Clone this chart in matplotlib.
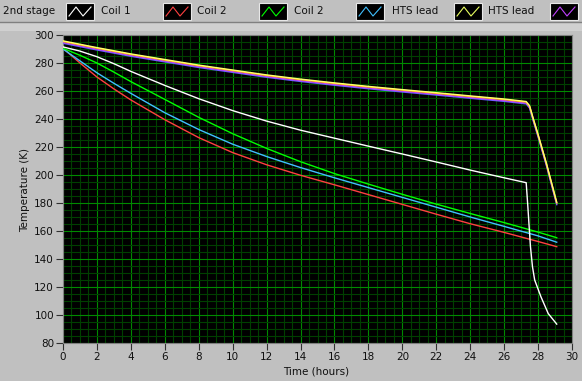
import matplotlib
matplotlib.use("Agg")
import matplotlib.pyplot as plt
from matplotlib.patches import Rectangle
from matplotlib.ticker import MultipleLocator

# time (hours) and temperatures (K)
t_cool = [0, 1, 2, 3, 4, 6, 8, 10, 12, 14, 16, 18, 20, 22, 24, 26, 28, 29.1]
coil1_red = [290.5, 280, 270, 261.5, 253.6, 239.5, 226.7, 216, 207.3, 199.8, 193, 186,
             179, 172, 165.2, 159, 152.5, 148.8]
coil2_green = [290.5, 285.5, 280, 273.5, 266.7, 254, 241.2, 229.5, 219, 209.5, 201,
               193.5, 186.2, 179.2, 172.5, 166, 159.2, 155.2]
coil2_blue = [290, 281.5, 273, 265.5, 258.3, 244.5, 232.5, 222, 213.2, 205.3, 198, 191,
              184, 177, 170, 163.3, 156.5, 152]

t_stage = [0, 1, 2, 3, 4, 6, 8, 10, 12, 14, 16, 18, 20, 22, 24, 26, 27.3,
           27.4, 27.55, 27.67, 27.8, 28.17, 28.6, 29.1]
stage2_white = [291.5, 288.5, 284.5, 279.5, 274, 264, 254.5, 246, 238.5, 232, 226.3, 220.6,
                215, 209.3, 203.5, 198, 194.5, 177, 149, 134.5, 125, 113, 101, 93.5]

t_lead = [0, 2, 4, 6, 8, 10, 12, 14, 16, 18, 20, 22, 24, 26, 27.3, 27.5, 27.7, 28, 28.5, 29.1]
lead_yellow = [295.8, 291, 286.5, 282.5, 278.5, 275, 271.5, 268.5, 265.8, 263.3, 261,
               258.8, 256.5, 254.3, 252.5, 249.5, 241, 229, 208, 180.5]
lead_orange = [295.4, 290.6, 286.1, 282.1, 278.1, 274.6, 271.1, 268.1, 265.4, 262.9, 260.6,
               258.4, 256.1, 253.9, 252.1, 249.1, 240.6, 228.6, 207.6, 180.1]
lead_violet = [294.7, 289.9, 285.4, 281.4, 277.4, 273.9, 270.4, 267.4, 264.7, 262.2, 259.9,
               257.7, 255.4, 253.2, 251.4, 248.4, 239.9, 227.9, 206.9, 179.4]
lead_indigo = [294.1, 289.3, 284.8, 280.8, 276.8, 273.3, 269.8, 266.8, 264.1, 261.6, 259.3,
               257.1, 254.8, 252.6, 250.8, 247.8, 239.3, 227.3, 206.3, 178.8]

legend_labels = ['2nd stage', 'Coil 1', 'Coil 2', 'Coil 2', 'HTS lead', 'HTS lead']
legend_colors = ['#ffffff', '#ff4040', '#00ff00', '#40c0ff', '#e8ff60', '#c040ff']

W, H = 582, 381
bg = '#c0c0c0'
plt.rcParams['font.family'] = ['DejaVu Sans']

fig = plt.figure(figsize=(W / 100, H / 100), dpi=100, facecolor=bg)

ax = fig.add_axes([63 / W, 38 / H, 509 / W, 308 / H])
ax.set_facecolor('black')

lw = 1.0
ax.plot(t_lead, lead_indigo, color='#6060ff', lw=lw, zorder=3)
ax.plot(t_lead, lead_violet, color='#c040ff', lw=lw, zorder=3)
ax.plot(t_lead, lead_orange, color='#ffb000', lw=lw, zorder=3)
ax.plot(t_lead, lead_yellow, color='#ffff70', lw=lw, zorder=3)
ax.plot(t_cool, coil1_red, color='#ff4040', lw=lw, zorder=3)
ax.plot(t_cool, coil2_blue, color='#40c0ff', lw=lw, zorder=3)
ax.plot(t_cool, coil2_green, color='#00ff00', lw=lw, zorder=3)
ax.plot(t_stage, stage2_white, color='#ffffff', lw=lw, zorder=4)

ax.set_xlim(0, 30)
ax.set_ylim(80, 300)
ax.xaxis.set_major_locator(MultipleLocator(2))
ax.xaxis.set_minor_locator(MultipleLocator(0.5))
ax.yaxis.set_major_locator(MultipleLocator(20))
ax.yaxis.set_minor_locator(MultipleLocator(5))
ax.grid(which='minor', color='#004000', lw=0.8, zorder=1)
ax.grid(which='major', color='#008a00', lw=0.8, zorder=2)
ax.set_axisbelow(True)
ax.tick_params(which='major', direction='out', length=5, width=0.8, color='#303030',
               labelsize=7.5, labelcolor='#101010', pad=1.5)
ax.tick_params(which='minor', length=0)
for s in ax.spines.values():
    s.set_color('#808080')
    s.set_linewidth(0.8)

fig.text(25 / W, 1 - 190 / H, 'Temperature (K)', rotation=90, ha='center', va='center',
         fontsize=7.5, color='#101010')
fig.text(316 / W, 1 - 371 / H, 'Time (hours)', ha='center', va='center',
         fontsize=7.5, color='#101010')

# legend bar on top, drawn in pixel coordinates
ov = fig.add_axes([0, 0, 1, 1], zorder=-1)
ov.set_xlim(0, W)
ov.set_ylim(H, 0)
ov.axis('off')
ov.plot([0, W], [22, 22], color='#808080', lw=1)
ov.add_patch(Rectangle((0, 22.5), W, 8, facecolor='#d0d0d0', edgecolor='none'))

text_x = [3, 101, 197, 294, 392, 488]
box_x = [66, 163, 259, 356, 454, 550]
for lab, col, tx, bx in zip(legend_labels, legend_colors, text_x, box_x):
    ov.text(tx, 11.5, lab, ha='left', va='center', fontsize=7.5, color='#101010')
    ov.add_patch(Rectangle((bx, 3), 28, 17, facecolor='black', edgecolor='#e8e8e8', lw=0.8))
    ov.plot([bx + 3, bx + 10, bx + 17, bx + 25], [16, 7, 16, 7], color=col, lw=0.8)

fig.savefig('out.png', dpi=100, facecolor=bg)
